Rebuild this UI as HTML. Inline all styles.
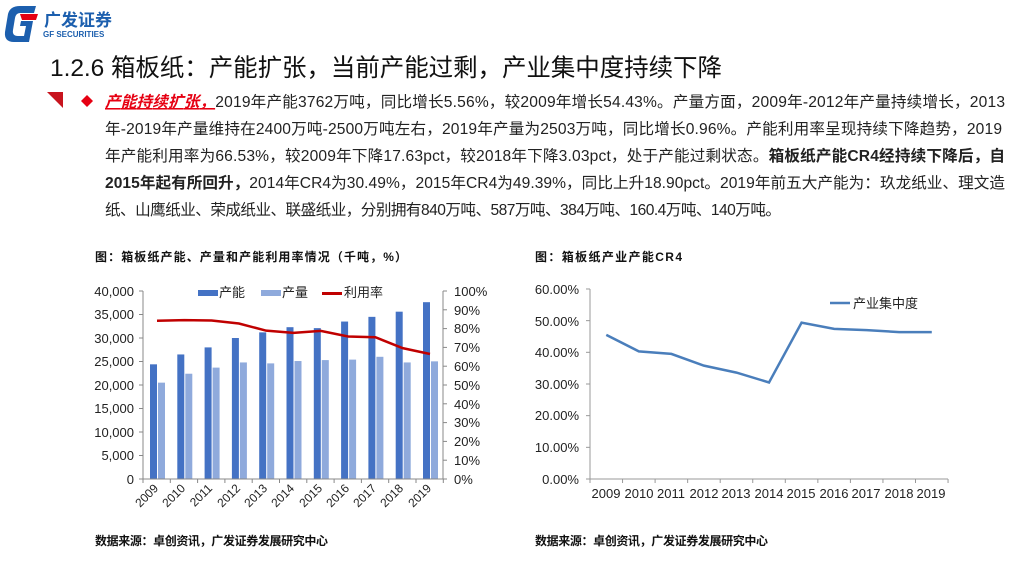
<!DOCTYPE html>
<html><head><meta charset="utf-8"><style>
body{margin:0;width:1035px;height:587px;background:#fff;overflow:hidden;font-family:"Liberation Sans","Noto Sans CJK SC",sans-serif;}
svg{position:absolute;left:0;top:0}
.t{font-family:"Liberation Sans","Noto Sans CJK SC",sans-serif}
</style></head><body>
<svg id="s" width="1035" height="587" xmlns="http://www.w3.org/2000/svg" class="t">
<path d="M8 14 Q10 6 20 6 L36 6 L34 13 L20 13 Q16 13 15 18 L13 30 Q12 36 18 36 L24 36 L26 26 L20 26 L21 21 L33 21 L29 42 L14 42 Q4 42 5 32 Z" fill="#1c5fae"/>
<path d="M20 14 L38 14 L36 20 L22 20 Z" fill="#e60012"/>
<text x="44" y="26" font-size="17" font-weight="bold" fill="#1c5fae">广发证券</text>
<text x="43" y="37" font-size="8" font-weight="bold" fill="#1c5fae">GF SECURITIES</text>
<text x="50" y="76" font-size="24.5" fill="#111" textLength="672">1.2.6 箱板纸：产能扩张，当前产能过剩，产业集中度持续下降</text>
<path d="M47 92 L63 92 L63 108 Z" fill="#c8141e"/>
<path d="M87 95 L93 101 L87 107 L81 101 Z" fill="#e60012"/>
<g font-size="15.6" fill="#222">
<text x="105" y="107" textLength="900"><tspan fill="#e60012" font-weight="bold" font-style="italic" text-decoration="underline">产能持续扩张，</tspan>2019年产能3762万吨，同比增长5.56%，较2009年增长54.43%。产量方面，2009年-2012年产量持续增长，2013</text>
<text x="105" y="134" textLength="897">年-2019年产量维持在2400万吨-2500万吨左右，2019年产量为2503万吨，同比增长0.96%。产能利用率呈现持续下降趋势，2019</text>
<text x="105" y="161" textLength="900">年产能利用率为66.53%，较2009年下降17.63pct，较2018年下降3.03pct，处于产能过剩状态。<tspan font-weight="bold">箱板纸产能CR4经持续下降后，自</tspan></text>
<text x="105" y="188" textLength="900"><tspan font-weight="bold">2015年起有所回升，</tspan>2014年CR4为30.49%，2015年CR4为49.39%，同比上升18.90pct。2019年前五大产能为：玖龙纸业、理文造</text>
<text x="105" y="215" textLength="676">纸、山鹰纸业、荣成纸业、联盛纸业，分别拥有840万吨、587万吨、384万吨、160.4万吨、140万吨。</text>
</g>
<g font-size="12" font-weight="bold" fill="#111">
<text x="95" y="261" textLength="312">图：箱板纸产能、产量和产能利用率情况（千吨，%）</text>
<text x="535" y="261" textLength="147">图：箱板纸产业产能CR4</text>
<text x="95" y="545" textLength="233">数据来源：卓创资讯，广发证券发展研究中心</text>
<text x="535" y="545" textLength="233">数据来源：卓创资讯，广发证券发展研究中心</text>
</g>
<g font-size="13" fill="#222" text-anchor="end">
<text x="134" y="296">40,000</text><text x="134" y="319">35,000</text><text x="134" y="343">30,000</text><text x="134" y="366">25,000</text><text x="134" y="390">20,000</text><text x="134" y="413">15,000</text><text x="134" y="437">10,000</text><text x="134" y="460">5,000</text><text x="134" y="484">0</text>
</g>
<g font-size="13" fill="#222" text-anchor="start">
<text x="454" y="296">100%</text><text x="454" y="315">90%</text><text x="454" y="333">80%</text><text x="454" y="352">70%</text><text x="454" y="371">60%</text><text x="454" y="390">50%</text><text x="454" y="409">40%</text><text x="454" y="427">30%</text><text x="454" y="446">20%</text><text x="454" y="465">10%</text><text x="454" y="484">0%</text>
</g>
<g font-size="12" fill="#222" text-anchor="end">
<text transform="translate(159,489) rotate(-45)">2009</text>
<text transform="translate(186,489) rotate(-45)">2010</text>
<text transform="translate(213,489) rotate(-45)">2011</text>
<text transform="translate(241,489) rotate(-45)">2012</text>
<text transform="translate(268,489) rotate(-45)">2013</text>
<text transform="translate(295,489) rotate(-45)">2014</text>
<text transform="translate(323,489) rotate(-45)">2015</text>
<text transform="translate(350,489) rotate(-45)">2016</text>
<text transform="translate(377,489) rotate(-45)">2017</text>
<text transform="translate(404,489) rotate(-45)">2018</text>
<text transform="translate(432,489) rotate(-45)">2019</text>
</g>
<g font-size="13" fill="#222">
<rect x="198" y="290" width="20" height="6" fill="#4472c4"/><text x="219" y="297">产能</text>
<rect x="261" y="290" width="20" height="6" fill="#8faadc"/><text x="282" y="297">产量</text>
<rect x="322" y="292" width="20" height="3" fill="#c00000"/><text x="344" y="297">利用率</text>
</g>
<g font-size="13" fill="#222" text-anchor="end">
<text x="579" y="294">60.00%</text><text x="579" y="326">50.00%</text><text x="579" y="357">40.00%</text><text x="579" y="389">30.00%</text><text x="579" y="420">20.00%</text><text x="579" y="452">10.00%</text><text x="579" y="484">0.00%</text>
</g>
<g font-size="13" fill="#222" text-anchor="middle">
<text x="606" y="498">2009</text><text x="639" y="498">2010</text><text x="671" y="498">2011</text><text x="704" y="498">2012</text><text x="736" y="498">2013</text><text x="769" y="498">2014</text><text x="801" y="498">2015</text><text x="834" y="498">2016</text><text x="866" y="498">2017</text><text x="899" y="498">2018</text><text x="931" y="498">2019</text>
</g>
<line x1="830" y1="303" x2="850" y2="303" stroke="#4a7ebb" stroke-width="2.5"/>
<text x="853" y="308" font-size="13" fill="#222">产业集中度</text>
<g id="dyn"></g>
</svg>
<script>
var g=document.getElementById('dyn'),h='';
var cap=[24400,26500,28000,30000,31200,32300,32100,33500,34500,35600,37620],
pro=[20500,22400,23700,24800,24600,25100,25300,25400,26000,24800,25030],
rate=[84.2,84.5,84.3,82.7,78.9,77.7,78.8,75.8,75.4,69.6,66.5],
cr=[45.5,40.3,39.5,35.8,33.6,30.49,49.39,47.4,47.0,46.4,46.4];
var x0=143,w=27.3,y0=479,H=188,pts=[];
for(var i=0;i<11;i++){var gx=x0+w*i;
var hc=cap[i]/40000*H,hp=pro[i]/40000*H;
h+='<rect x="'+(gx+7)+'" y="'+(y0-hc)+'" width="7" height="'+hc+'" fill="#4472c4"/>';
h+='<rect x="'+(gx+15)+'" y="'+(y0-hp)+'" width="7" height="'+hp+'" fill="#8faadc"/>';
pts.push((gx+14)+','+(y0-rate[i]/100*H));}
h+='<polyline points="'+pts.join(' ')+'" fill="none" stroke="#c00000" stroke-width="2.5"/>';
h+='<line x1="143" y1="291" x2="143" y2="479" stroke="#888"/><line x1="143" y1="479" x2="443" y2="479" stroke="#888"/><line x1="443" y1="291" x2="443" y2="479" stroke="#888"/>';
for(var j=0;j<=8;j++){var y=479-j*23.5;h+='<line x1="139" y1="'+y+'" x2="143" y2="'+y+'" stroke="#888"/>';}
for(var j=0;j<=10;j++){var y=479-j*18.8;h+='<line x1="443" y1="'+y+'" x2="447" y2="'+y+'" stroke="#888"/>';}
for(var j=0;j<=11;j++){var x=x0+w*j;h+='<line x1="'+x+'" y1="479" x2="'+x+'" y2="483" stroke="#888"/>';}
var rx=590,rw=32.55,p2=[];
h+='<line x1="590" y1="289" x2="590" y2="479" stroke="#999"/><line x1="590" y1="479" x2="948" y2="479" stroke="#999"/>';
for(var j=0;j<=6;j++){var y=479-j*31.67;h+='<line x1="586" y1="'+y+'" x2="590" y2="'+y+'" stroke="#999"/>';}
for(var j=0;j<=11;j++){var x=rx+rw*j;h+='<line x1="'+x+'" y1="479" x2="'+x+'" y2="483" stroke="#999"/>';}
for(var i=0;i<11;i++)p2.push((rx+rw*(i+0.5))+','+(479-cr[i]/60*190));
h+='<polyline points="'+p2.join(' ')+'" fill="none" stroke="#4a7ebb" stroke-width="2.5"/>';
g.innerHTML=h;
</script>
</body></html>
